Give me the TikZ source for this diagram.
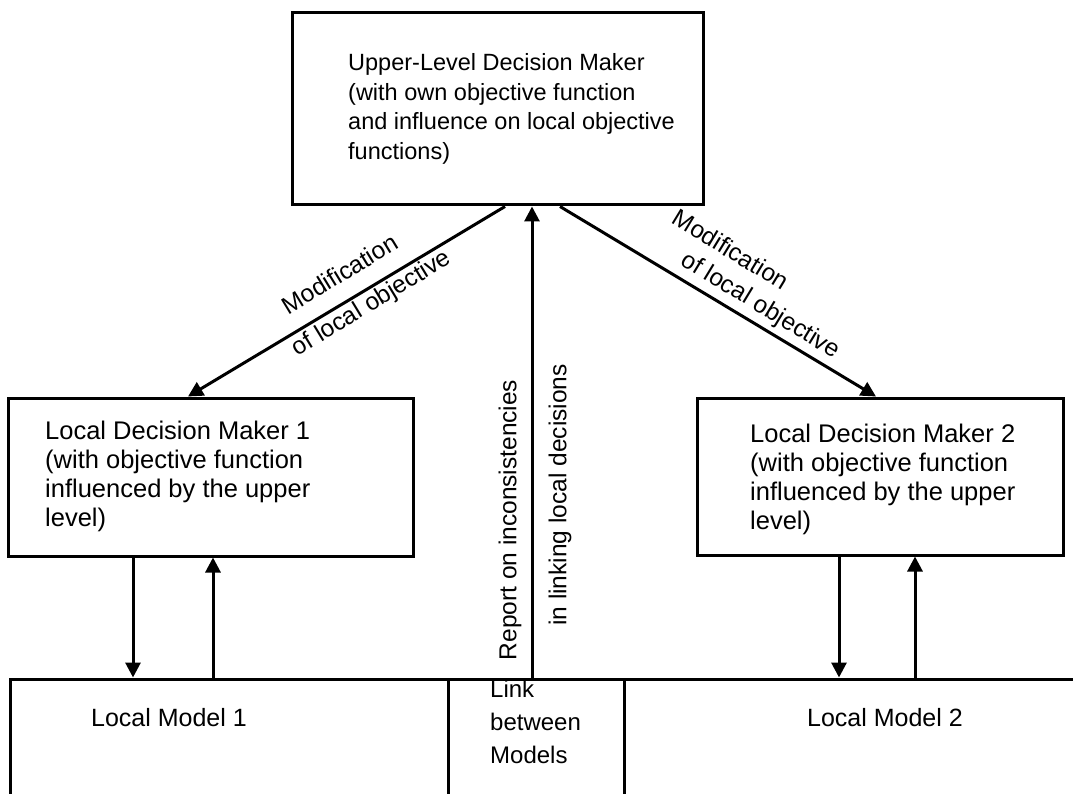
\documentclass[tikz,border=0pt]{standalone}
\usepackage{fontspec}
\setmainfont{Liberation Sans}
\usetikzlibrary{arrows.meta}
\begin{document}
\begin{tikzpicture}[x=1pt,y=-1pt,
  box/.style={draw, line width=3pt, rectangle, inner sep=0pt},
  txt/.style={font=\fontsize{25.5}{29}\selectfont, align=left, inner sep=0pt, anchor=west},
  lbl/.style={font=\fontsize{24.5}{29}\selectfont, inner sep=0pt},
  arr/.style={line width=3pt, -{Triangle[length=15pt,width=15pt]}}]
\useasboundingbox (0,0) rectangle (1073,794);
\clip (0,0) rectangle (1073,794);

% boxes
\node[box, minimum width=411pt, minimum height=192pt] (ul) at (497.5,109) {};
\node[box, minimum width=405pt, minimum height=158pt] (ldm1) at (210.5,477) {};
\node[box, minimum width=366pt, minimum height=157pt] (ldm2) at (880,476.5) {};
\node[box, minimum width=438pt, minimum height=151pt] (lm1) at (229,754.5) {};
\node[box, minimum width=176pt, minimum height=151pt] (link) at (536,754.5) {};
\node[box, minimum width=466pt, minimum height=151pt] (lm2) at (857,754.5) {};

% box texts
\node[txt, font=\fontsize{23.5}{29.5}\selectfont] (ultxt) at (348,109) {Upper-Level Decision Maker\\(with own objective function\\and influence on local objective\\functions)};
\node[txt] (ldm1txt) at (45,476) {Local Decision Maker 1\\(with objective function\\influenced by the upper\\level)};
\node[txt] (ldm2txt) at (750,479) {Local Decision Maker 2\\(with objective function\\influenced by the upper\\level)};
\node[lbl, font=\fontsize{25}{29}\selectfont] (lm1txt) at (169,718) {Local Model 1};
\node[lbl, font=\fontsize{25}{29}\selectfont] (lm2txt) at (885,718) {Local Model 2};
\node[txt, font=\fontsize{24}{33}\selectfont] (linktxt) at (490,722) {Link\\between\\Models};

% modification of local objectives
\draw[arr] (505,0 |- ul.south) -- (188,0 |- ldm1.north);
\draw[arr] (560,0 |- ul.south) -- (876,0 |- ldm2.north);
\node[lbl, align=left, rotate=31.3] (modl) at (361.6,286.9)
  {\hspace*{13pt}Modification\\[11pt]of local objective};
\node[lbl, align=left, rotate=-31.3] (modr) at (755.7,285.3)
  {Modification\\[2pt]\hspace*{29pt}of local objective};

% report on inconsistencies
\draw[arr] (532,0 |- link.north) -- (532,0 |- ul.south);
\node[lbl, rotate=90] (rep1) at (510,520) {Report on inconsistencies};
\node[lbl, rotate=90] (rep2) at (560,495) {in linking local decisions};

% local decision makers and their models
\draw[arr] (133,0 |- ldm1.south) -- (133,0 |- lm1.north);
\draw[arr] (213,0 |- lm1.north) -- (213,0 |- ldm1.south);
\draw[arr] (839,0 |- ldm2.south) -- (839,0 |- lm2.north);
\draw[arr] (915,0 |- lm2.north) -- (915,0 |- ldm2.south);
\end{tikzpicture}
\end{document}
